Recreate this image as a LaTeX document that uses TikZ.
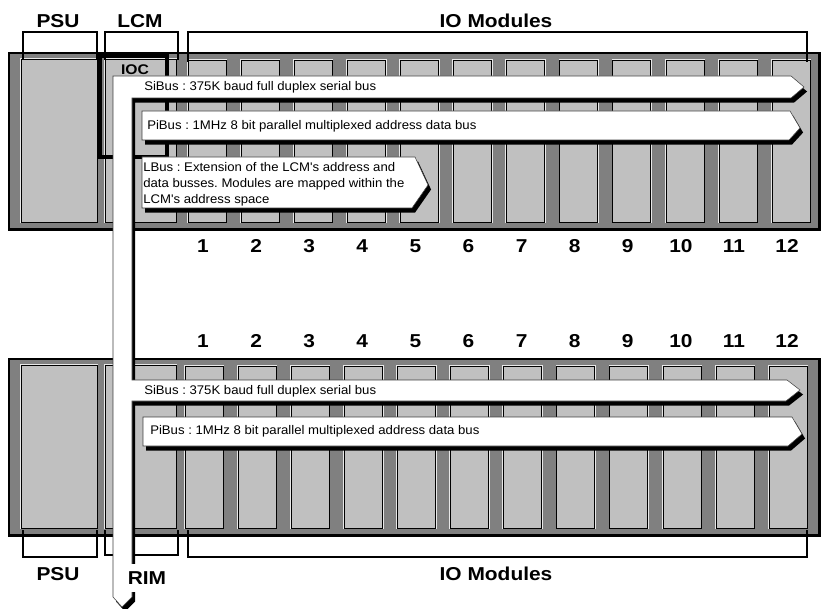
\documentclass[tikz,border=0pt]{standalone}
\usepackage{fontspec}
\setsansfont{Liberation Sans}
\newfontfamily\lblfont[FakeStretch=1.12]{Liberation Sans}
\newfontfamily\busfont[FakeStretch=1.05]{Liberation Sans}
\usetikzlibrary{calc}
\definecolor{rackgray}{HTML}{808080}
\definecolor{slotgray}{HTML}{C0C0C0}
\definecolor{edgegray}{HTML}{404040}
\definecolor{lightedge}{HTML}{E8E8E8}
\frenchspacing

\begin{document}
\begin{tikzpicture}[
    x=0.75pt, y=-0.75pt,
    rack/.style={draw=black, line width=1.8pt, fill=rackgray},
    slot/.style={draw=black, line width=0.5pt, fill=slotgray,
                 preaction={draw=lightedge, line width=1.8pt}},
    brace/.style={draw=black, line width=1.4pt},
    title/.style={font=\lblfont\bfseries\fontsize{14}{16}\selectfont, inner sep=0pt},
    slotnum/.style={title},
    bus/.style={fill=white, draw=edgegray, line width=0.4pt,
                preaction={fill=black, transform canvas={xshift=2.3pt, yshift=-3.4pt}}},
    bustext/.style={font=\busfont\fontsize{9.4}{12}\selectfont, inner sep=0pt, anchor=west},
]
    \useasboundingbox (0,0) rectangle (823,609);
    \fill[white] (0,0) rectangle (823,609);

    % ============================================================
    %  RACKS (PSU, LCM / RIM and twelve IO slots each)
    % ============================================================
    \foreach \ry/\sx in {53/188, 359/185} {
        \draw[rack] (9,\ry) rectangle (819.5,\ry+176.5);
        \draw[slot] (21,\ry+6) rectangle (97,\ry+169);
        \draw[slot] (105,\ry+6) rectangle (176,\ry+169);
        \foreach \k in {0,...,11}
            \draw[slot] ({\sx+\k*53.1},\ry+7) rectangle ({\sx+\k*53.1+38},\ry+169);
    }

    % IOC inside the LCM
    \draw[line width=3pt] (99.5,56) rectangle (166.5,157);
    \node[font=\lblfont\bfseries\fontsize{10.5}{12}\selectfont, inner sep=0pt] (ioc) at (135,70) {IOC};

    % ============================================================
    %  BRACKETS AND CAPTIONS
    % ============================================================
    \draw[brace] (23,60) -- (23,32) -- (97,32) -- (97,60);
    \draw[brace] (105,60) -- (105,32) -- (178,32) -- (178,60);
    \draw[brace] (188,62) -- (188,32) -- (807,32) -- (807,62);
    \node[title] (psuT) at (58,21)  {PSU};
    \node[title] (lcmT) at (140,21) {LCM};
    \node[title] (ioT)  at (496,21) {IO Modules};

    \draw[brace] (23,530) -- (23,557) -- (97,557) -- (97,530);
    \draw[brace] (105,530) -- (105,555) -- (178,555) -- (178,530);
    \draw[brace] (188,530) -- (188,557) -- (807,557) -- (807,530);
    \node[title] (psuB) at (58,574)  {PSU};
    \node[title] (ioB)  at (496,574) {IO Modules};

    % slot numbers
    \foreach \k in {1,...,12} {
        \node[slotnum] (tn\k) at ({203+(\k-1)*53.1},246) {\k};
        \node[slotnum] (bn\k) at ({203+(\k-1)*53.1},341) {\k};
    }

    % ============================================================
    %  BUSES
    % ============================================================
    % serial bus runs down through both racks
    \path[bus] (113,76) -- (791,76) -- (804,87) -- (791,98) -- (132,98)
        -- (132,380) -- (787,380) -- (800,390) -- (786,401) -- (132,401)
        -- (132,597) -- (122,607) -- (113,597) -- cycle;
    \path[bus] (142,111) -- (790,111) -- (800,128) -- (789,140) -- (142,140) -- cycle;
    \path[bus] (142,157) -- (415,157) -- (428,185) -- (412,208) -- (142,208) -- cycle;
    \path[bus] (143,417) -- (792,417) -- (802,434) -- (788,446) -- (143,446) -- cycle;

    \node[bustext] (siT) at (144,87)  {SiBus : 375K baud full duplex serial bus};
    \node[bustext] (piT) at (147,126) {PiBus : 1MHz 8 bit parallel multiplexed address data bus};
    \node[bustext, anchor=north west, align=left] (lbT) at (143,162)
        {LBus : Extension of the LCM's address and\\
         data busses. Modules are mapped within the\\
         LCM's address space};
    \node[bustext] (siB) at (144,391) {SiBus : 375K baud full duplex serial bus};
    \node[bustext] (piB) at (150,431) {PiBus : 1MHz 8 bit parallel multiplexed address data bus};

    % RIM caption sits over the bus shadow
    \node[title, fill=white, inner xsep=1pt, inner ysep=6pt] (rimB) at (147,578) {RIM};

\end{tikzpicture}
\end{document}
